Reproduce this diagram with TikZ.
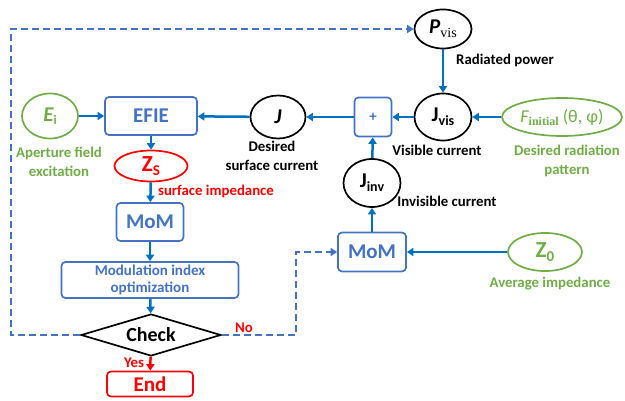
\documentclass[tikz,border=0pt]{standalone}
\usepackage{fontspec}
\setmainfont{Carlito}
\newfontfamily\serifz{Liberation Serif}
\usetikzlibrary{shapes.geometric,arrows.meta}
\definecolor{abl}{HTML}{0070C0}
\definecolor{bbl}{HTML}{4472C4}
\definecolor{gr}{HTML}{70AD47}
\definecolor{rd}{HTML}{FF0000}
\begin{document}
\begin{tikzpicture}[x=1pt,y=-1pt,
 ell/.style={ellipse,draw,line width=1.7pt,inner sep=0},
 bx/.style={rectangle,rounded corners=4pt,draw=bbl,line width=1.7pt,text=bbl,inner sep=0,font=\fontsize{21}{22}\selectfont\bfseries},
 ar/.style={draw=abl,line width=2.5pt,-{Triangle[length=6.5pt,width=8pt]}},
 da/.style={draw=bbl,line width=1.9pt,dash pattern=on 7pt off 4pt,-{Triangle[length=6.5pt,width=8pt]}},
 lab/.style={font=\fontsize{14.8}{18.5}\selectfont\bfseries,align=center,inner sep=0}]
\useasboundingbox (0,0) rectangle (625,401);

% nodes
\node[ell,draw=gr,text=gr,minimum width=56,minimum height=45] (ei) at (50,116)
  {\fontsize{21}{21}\selectfont\bfseries\itshape E\upshape\fontsize{13}{13}\selectfont\raisebox{-3pt}{i}};
\node[bx,minimum width=92,minimum height=38] (efie) at (151,116) {EFIE};
\node[ell,minimum width=55,minimum height=43] (j) at (278,117)
  {\fontsize{21}{21}\selectfont\bfseries\itshape J};
\node[bx,minimum width=37,minimum height=39,font=\fontsize{15}{15}\selectfont\bfseries] (plus) at (373,117) {+};
\node[ell,minimum width=57,minimum height=47] (jvis) at (443,117)
  {\fontsize{21}{21}\selectfont\bfseries J\fontsize{14}{14}\selectfont\raisebox{-4pt}{vis}};
\node[ell,minimum width=57,minimum height=39] (pvis) at (443,29)
  {\fontsize{21}{21}\selectfont\bfseries\itshape P\normalfont\fontsize{14}{14}\selectfont\serifz\raisebox{-4pt}{vis}};
\node[ell,draw=gr,text=gr,minimum width=120,minimum height=38] (fini) at (562,117)
  {\fontsize{18}{18}\selectfont\itshape F\normalfont\fontsize{12}{12}\selectfont\serifz\bfseries\raisebox{-3pt}{initial}\fontsize{18}{18}\selectfont\rmfamily\mdseries\ (θ, φ)};
\node[ell,draw=rd,text=rd,minimum width=73,minimum height=31] (zs) at (151,166)
  {\fontsize{23}{23}\selectfont\bfseries Z\fontsize{15}{15}\selectfont\raisebox{-4pt}{S}};
\node[bx,minimum width=67,minimum height=38] (mom1) at (150,222) {MoM};
\node[bx,minimum width=177,minimum height=36,font=\fontsize{15}{17.5}\selectfont\bfseries,align=center] (modi) at (150,280) {Modulation index\\optimization};
\node[diamond,draw,line width=1.7pt,minimum width=140,minimum height=42,aspect=3.3,inner sep=0,font=\fontsize{20}{20}\selectfont\bfseries] (chk) at (151,335) {Check};
\node[bx,draw=rd,text=rd,minimum width=86,minimum height=25] (endn) at (150,384) {End};
\node[ell,minimum width=57,minimum height=48] (jinv) at (372,183)
  {\fontsize{21}{21}\selectfont\bfseries J\fontsize{14}{14}\selectfont\raisebox{-4pt}{inv}};
\node[bx,minimum width=68,minimum height=39] (mom2) at (372,252) {MoM};
\node[ell,draw=gr,text=gr,minimum width=74,minimum height=38] (z0) at (545,252)
  {\fontsize{23}{23}\selectfont\bfseries Z\fontsize{15}{15}\selectfont\raisebox{-4pt}{0}};

% labels
\node[lab] (l1) at (505,60) {Radiated power};
\node[lab] (l2) at (437,150) {Visible current};
\node[lab] (l3) at (272,156) {Desired\\surface current};
\node[lab,text=gr] (l4) at (59,162) {Aperture field\\excitation};
\node[lab,text=rd] (l5) at (216,191) {surface impedance};
\node[lab,text=gr] (l6) at (567,161) {Desired radiation\\pattern};
\node[lab] (l7) at (447,201) {Invisible current};
\node[lab,text=gr] (l8) at (550,284) {Average impedance};
\node[lab,text=rd] (l9) at (134,363) {Yes};
\node[lab,text=rd] (l10) at (244,328) {No};

% connectors
\draw[ar] (ei) -- (efie);
\draw[ar] (j) -- (efie);
\draw[ar] (plus) -- (j);
\draw[ar] (jvis) -- (plus);
\draw[ar] (fini) -- (jvis);
\draw[ar] (pvis) -- (jvis);
\draw[ar] (jinv) -- (plus);
\draw[ar] (mom2) -- (jinv);
\draw[ar] (z0) -- (mom2);
\draw[ar] (efie) -- (zs);
\draw[ar] (zs) -- (mom1);
\draw[ar] (mom1) -- (modi);
\draw[ar] (modi) -- (chk);
\draw[ar,draw=rd] (chk) -- (endn);
\coordinate (c1) at (11,335);
\coordinate (c3) at (296,335);
\draw[da] (chk.west) -- (c1) |- (pvis.west);
\draw[da] (chk.east) -- (c3) |- (mom2.west);
\end{tikzpicture}
\end{document}
